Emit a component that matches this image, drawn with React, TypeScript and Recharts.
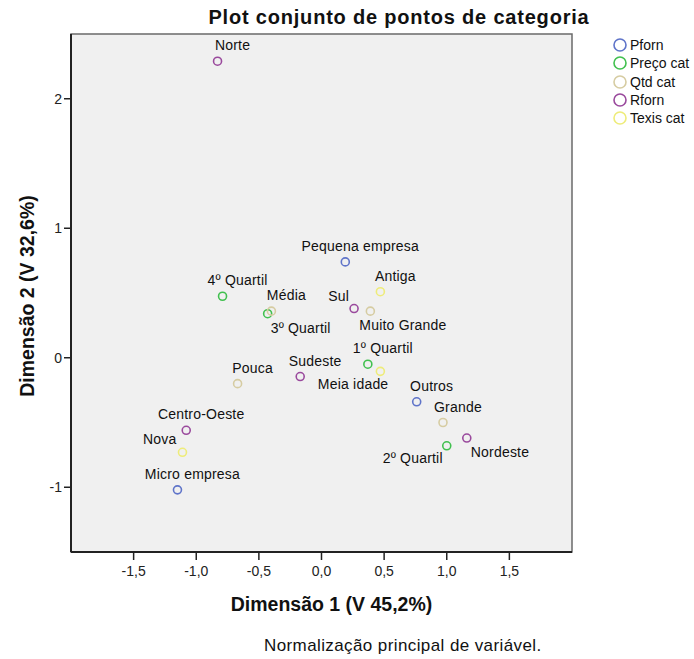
import { ScatterChart, Scatter, XAxis, YAxis, ReferenceArea, Legend } from "recharts"

const pfornNames = ["Pequena empresa", "Outros", "Micro empresa"]
const pfornDim1 = [0.19, 0.76, -1.15]
const pfornDim2 = [0.74, -0.34, -1.02]

const precoNames = ["4º Quartil", "3º Quartil", "1º Quartil", "2º Quartil"]
const precoDim1 = [-0.79, -0.43, 0.37, 1.0]
const precoDim2 = [0.475, 0.34, -0.05, -0.68]

const qtdNames = ["Média", "Muito Grande", "Pouca", "Grande"]
const qtdDim1 = [-0.4, 0.39, -0.67, 0.97]
const qtdDim2 = [0.36, 0.36, -0.2, -0.5]

const rfornNames = ["Norte", "Sul", "Sudeste", "Centro-Oeste", "Nordeste"]
const rfornDim1 = [-0.83, 0.26, -0.17, -1.08, 1.16]
const rfornDim2 = [2.29, 0.38, -0.145, -0.56, -0.62]

const texisNames = ["Antiga", "Meia idade", "Nova"]
const texisDim1 = [0.47, 0.47, -1.11]
const texisDim2 = [0.51, -0.105, -0.73]

const xTicks = [-1.5, -1.0, -0.5, 0.0, 0.5, 1.0, 1.5]
const yTicks = [-1, 0, 1, 2]

const FONT = "'Liberation Sans', Arial, sans-serif"

// where each point label sits relative to its marker (default: above, a bit right)
const labelPlace: Record<string, [string, number, number]> = {
  "Sul": ["end", -5, -8],
  "Nova": ["end", -6, -8],
  "3º Quartil": ["start", 3, 19],
  "Muito Grande": ["start", -11, 19],
  "Nordeste": ["start", 4, 19],
  "Meia idade": ["end", 8, 18],
  "2º Quartil": ["end", -4, 17],
}

const build = (names: string[], d1: number[], d2: number[]) =>
  names.map((name, i) => ({ name, x: d1[i], y: d2[i] }))

const series = [
  { name: "Pforn", color: "#5f74c9", data: build(pfornNames, pfornDim1, pfornDim2) },
  { name: "Preço cat", color: "#41c04f", data: build(precoNames, precoDim1, precoDim2) },
  { name: "Qtd cat", color: "#d6cca2", data: build(qtdNames, qtdDim1, qtdDim2) },
  { name: "Rforn", color: "#9a4a9d", data: build(rfornNames, rfornDim1, rfornDim2) },
  { name: "Texis cat", color: "#eeec7a", data: build(texisNames, texisDim1, texisDim2) },
]

const fmtX = (v: number) => v.toFixed(1).replace(".", ",")

function makeShape(color: string) {
  return (props: any) => {
    const { cx, cy, payload } = props
    const place = labelPlace[payload.name] ?? ["middle", 15, -11]
    return (
      <g>
        <circle cx={cx} cy={cy} r={4} fill="none" stroke={color} strokeWidth={1.6} />
        <text
          x={cx + place[1]}
          y={cy + place[2]}
          textAnchor={place[0]}
          fontFamily={FONT}
          fontSize={14}
          letterSpacing={0.2}
          fill="#111"
        >
          {payload.name}
        </text>
      </g>
    )
  }
}

function LegendBox(props: any) {
  const { payload } = props
  return (
    <div style={{ fontFamily: FONT, fontSize: 14, color: "#111" }}>
      {(payload || []).map((entry: any) => {
        const s = series.find((it) => it.name === entry.value)
        return (
          <div key={entry.value} style={{ display: "flex", alignItems: "center", height: 18.3 }}>
            <svg width={16} height={16} style={{ marginRight: 2 }}>
              <circle cx={8} cy={8} r={6} fill="none" stroke={s ? s.color : "#888"} strokeWidth={1.6} />
            </svg>
            <span>{entry.value}</span>
          </div>
        )
      })}
    </div>
  )
}

export default function App() {
  return (
    <div style={{ position: "absolute", left: 0, top: 0, width: 694, height: 659, background: "#fff" }}>
      <div
        style={{
          position: "absolute",
          left: 0,
          top: 6,
          width: 798,
          textAlign: "center",
          fontFamily: FONT,
          fontWeight: "bold",
          fontSize: 20,
          letterSpacing: 0.8,
          color: "#111",
          whiteSpace: "nowrap",
        }}
      >
        Plot conjunto de pontos de categoria
      </div>
      <ScatterChart width={694} height={659} margin={{ top: 34, right: 122, bottom: 47, left: 11 }}>
        <ReferenceArea x1={-2} x2={2} y1={-1.5} y2={2.5} fill="#f0f0f0" fillOpacity={1} stroke="#6a6a6a" strokeWidth={1.5} />
        <XAxis
          type="number"
          dataKey="x"
          domain={[-2, 2]}
          ticks={xTicks}
          tickFormatter={fmtX}
          height={60}
          axisLine={{ stroke: "#222", strokeWidth: 2 }}
          tickLine={{ stroke: "#222", strokeWidth: 1.5 }}
          tickSize={8}
          tickMargin={6}
          tick={{ fontFamily: FONT, fontSize: 14, fill: "#222" }}
          label={{
            value: "Dimensão 1 (V 45,2%)",
            position: "insideBottom",
            offset: 1,
            dx: 10,
            style: { fontFamily: FONT, fontWeight: "bold", fontSize: 19.5, fill: "#111" },
          }}
        />
        <YAxis
          type="number"
          dataKey="y"
          domain={[-1.5, 2.5]}
          ticks={yTicks}
          width={60}
          axisLine={{ stroke: "#222", strokeWidth: 2 }}
          tickLine={{ stroke: "#222", strokeWidth: 1.5 }}
          tickSize={7}
          tickMargin={2}
          tick={{ fontFamily: FONT, fontSize: 14, fill: "#222" }}
          label={{
            content: () => (
              <text
                x={34}
                y={296}
                transform="rotate(-90 34 296)"
                textAnchor="middle"
                fontFamily={FONT}
                fontWeight="bold"
                fontSize={19.5}
                fill="#111"
              >
                Dimensão 2 (V 32,6%)
              </text>
            ),
          }}
        />
        {series.map((s) => (
          <Scatter
            key={s.name}
            name={s.name}
            data={s.data}
            fill="none"
            stroke={s.color}
            shape={makeShape(s.color)}
            isAnimationActive={false}
          />
        ))}
        <Legend
          layout="vertical"
          align="center"
          verticalAlign="middle"
          wrapperStyle={{ left: 612, top: 36, width: 82 }}
          content={LegendBox}
        />
      </ScatterChart>
      <div
        style={{
          position: "absolute",
          left: 264,
          top: 636,
          fontFamily: FONT,
          fontSize: 17,
          letterSpacing: 0.4,
          color: "#111",
          whiteSpace: "nowrap",
        }}
      >
        Normalização principal de variável.
      </div>
    </div>
  )
}
